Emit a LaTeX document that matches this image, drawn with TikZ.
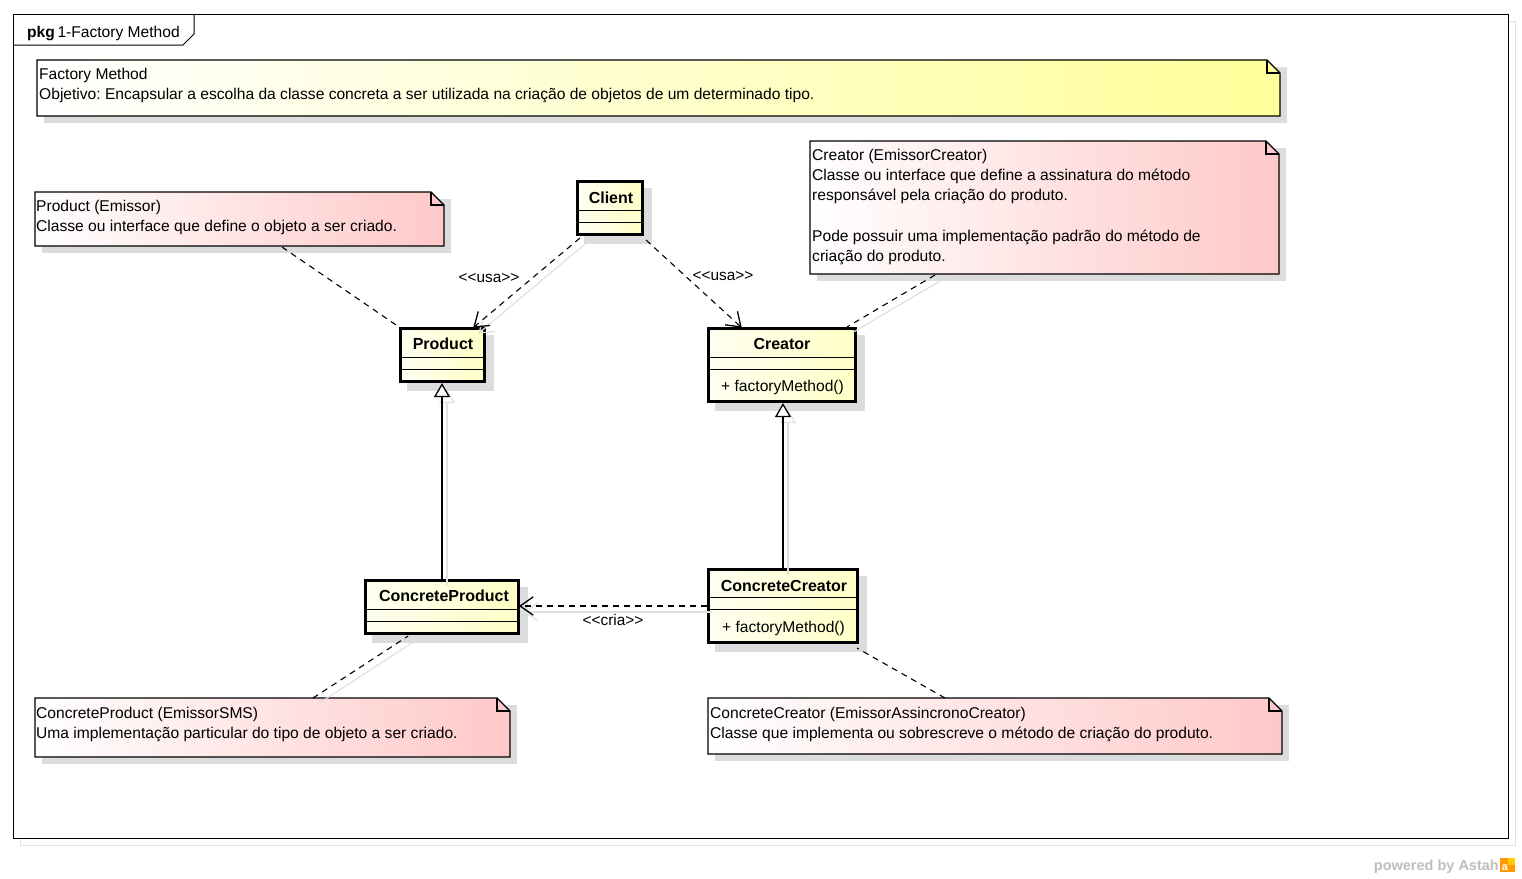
\documentclass[tikz,border=0pt]{standalone}
\usepackage{fontspec}
\setmainfont{Liberation Sans}[Ligatures=TeXOff]
\usetikzlibrary{arrows.meta,calc}
\frenchspacing

\definecolor{clsL}{RGB}{255,255,242}
\definecolor{clsR}{RGB}{255,255,198}
\definecolor{noteY}{RGB}{255,255,154}
\definecolor{noteP}{RGB}{255,200,200}
\definecolor{shadowc}{RGB}{220,220,220}
\definecolor{lineshadow}{RGB}{225,225,225}
\definecolor{astahgray}{RGB}{190,190,190}

% UML note with folded corner: x1, y1, x2, y2, right-hand colour
\newcommand\umlnote[5]{%
  \fill[shadowc] ({#1+7},{#2+7}) rectangle ({#3+7},{#4+7});
  \path[left color=white, right color=#5]
    (#1,#2) -- ({#3-13},#2) -- (#3,{#2+13}) -- (#3,#4) -- (#1,#4) -- cycle;
  \draw[notebord] (#1,#2) -- ({#3-13},#2) -- (#3,{#2+13}) -- (#3,#4) -- (#1,#4) -- cycle;
  \draw[notebord] ({#3-13},#2) -- ({#3-13},{#2+13}) -- (#3,{#2+13});
}
% open V arrow head at #2 for a line coming from #1, extra style #3
\newcommand\vhead[3]{%
  \draw[vstyle, #3] ($(#2)!16pt!35:(#1)$) -- (#2) -- ($(#2)!16pt!-35:(#1)$);
}

\tikzset{
  notebord/.style={line width=1.2pt, line join=miter},
  txt/.style={anchor=base west, inner sep=0pt, font=\fontsize{15.6}{20}\selectfont},
  clsname/.style={anchor=base, inner sep=0pt, font=\bfseries\fontsize{16}{20}\selectfont},
  clsop/.style={anchor=base west, inner sep=0pt, font=\fontsize{15.6}{20}\selectfont},
  umlclass/.style={draw, line width=3.2pt, inner sep=0pt, left color=clsL, right color=clsR},
  compline/.style={line width=1pt},
  vstyle/.style={line width=1.3pt, line join=miter, solid},
  depend/.style={dash pattern=on 6pt off 5pt, line width=1.1pt},
  anchorline/.style={dash pattern=on 6pt off 5pt, line width=1.1pt},
  generalize/.style={line width=1.3pt,
    -{Triangle[open, length=14pt, width=16pt, fill=white, line width=1.3pt]}},
  stereo/.style={anchor=base, inner sep=0pt, font=\fontsize{15.4}{20}\selectfont},
}

\begin{document}
\begin{tikzpicture}[x=1pt, y=-1pt]
\useasboundingbox (0,0) rectangle (1522,878);
\fill[white] (0,0) rectangle (1522,878);

% package frame with its shadow
\draw[lineshadow, line width=1pt] (20,21) rectangle (1515,845);
\draw[fill=white, line width=1pt] (13,14) rectangle (1508,838);
\draw[line width=1pt] (13,45) -- (183,45) -- (194,34) -- (194,14);
\node[anchor=base west, inner sep=0pt, font=\fontsize{15.6}{20}\selectfont] (pkglabel)
  at (27,37) {\textbf{pkg}\,1-Factory Method};

% notes
\umlnote{37}{60}{1280}{116}{noteY}
\node[txt] (n0a) at (39,79) {Factory Method};
\node[txt] (n0b) at (39,99) {Objetivo: Encapsular a escolha da classe concreta a ser utilizada na criação de objetos de um determinado tipo.};

\umlnote{35}{192}{444}{246}{noteP}
\node[txt] (n1a) at (36,211) {Product (Emissor)};
\node[txt] (n1b) at (36,231) {Classe ou interface que define o objeto a ser criado.};
\coordinate (n1c) at (282,247);

\umlnote{810}{141}{1279}{274}{noteP}
\node[txt] (n2a) at (812,160) {Creator (EmissorCreator)};
\node[txt] (n2b) at (812,180) {Classe ou interface que define a assinatura do método};
\node[txt] (n2c) at (812,200) {responsável pela criação do produto.};
\node[txt] (n2d) at (812,241) {Pode possuir uma implementação padrão do método de};
\node[txt] (n2e) at (812,261) {criação do produto.};
\coordinate (n2p) at (935,275);

\umlnote{35}{698}{510}{757}{noteP}
\node[txt] (n3a) at (36,718) {ConcreteProduct (EmissorSMS)};
\node[txt] (n3b) at (36,738) {Uma implementação particular do tipo de objeto a ser criado.};
\coordinate (n3p) at (313,698);

\umlnote{708}{698}{1282}{754}{noteP}
\node[txt] (n4a) at (710,718) {ConcreteCreator (EmissorAssincronoCreator)};
\node[txt] (n4b) at (710,738) {Classe que implementa ou sobrescreve o método de criação do produto.};
\coordinate (n4p) at (945,698);

% class shadows
\fill[shadowc] (584,188) rectangle (652,244);
\fill[shadowc] (407,335) rectangle (494,391);
\fill[shadowc] (715,335) rectangle (865,411);
\fill[shadowc] (372,587) rectangle (528,643);
\fill[shadowc] (715,576) rectangle (867,652);

% classes
\node[umlclass, minimum width=65pt, minimum height=53pt] (client) at (610,208) {};
\draw[compline] (577.5,210) -- (642.5,210) (577.5,222) -- (642.5,222);
\node[clsname] (clientname) at (611,203) {Client};

\node[umlclass, minimum width=84pt, minimum height=53pt] (product) at (442.5,355) {};
\draw[compline] (400.5,357) -- (484.5,357) (400.5,369) -- (484.5,369);
\node[clsname] (productname) at (443,349) {Product};

\node[umlclass, minimum width=147pt, minimum height=73pt] (creator) at (782,365) {};
\draw[compline] (708.5,357) -- (855.5,357) (708.5,369) -- (855.5,369);
\node[clsname] (creatorname) at (782,349) {Creator};
\node[clsop] (creatorop) at (721,391) {+ factoryMethod()};

\node[umlclass, minimum width=153pt, minimum height=53pt] (cp) at (442,607) {};
\draw[compline] (365.5,609) -- (518.5,609) (365.5,621) -- (518.5,621);
\node[clsname] (cpname) at (444,601) {ConcreteProduct};

\node[umlclass, minimum width=149pt, minimum height=73pt] (cc) at (783,606) {};
\draw[compline] (708.5,597) -- (857.5,597) (708.5,609) -- (857.5,609);
\node[clsname] (ccname) at (784,591) {ConcreteCreator};
\node[clsop] (ccop) at (722,632) {+ factoryMethod()};

% connector end points
\coordinate (clA) at ($(client.south west)+(4,2)$);
\coordinate (prA) at ($(product.north east)+(-12,0)$);
\coordinate (clB) at ($(client.south east)+(2,4)$);
\coordinate (crB) at ($(creator.north west)+(34,0)$);
\coordinate (ccW) at (cc.west);
\coordinate (cpE) at (cc.west -| cp.east);

% connector shadows
\begin{scope}[transform canvas={shift={(5,6)}}]
  \draw[lineshadow, line width=1.2pt] (clA) -- (prA);
  \vhead{clA}{prA}{lineshadow}
  \draw[lineshadow, line width=1.2pt] (n2p) -- ($(creator.north east)+(-10,0)$);
  \draw[lineshadow, line width=1.2pt] (n3p) -- ($(cp.south)+(-34,1)$);
  \draw[lineshadow, line width=1.2pt, -{Triangle[open, length=14pt, width=16pt]}]
    (cp.north) -- (cp.north |- product.south);
  \draw[lineshadow, line width=1.2pt, -{Triangle[open, length=14pt, width=16pt]}]
    (cc.north) -- (cc.north |- creator.south);
  \draw[lineshadow, line width=1.2pt] (ccW) -- (cpE);
  \vhead{ccW}{cpE}{lineshadow}
\end{scope}

% dependencies
\draw[depend] (clA) -- (prA);
\vhead{clA}{prA}{}
\draw[depend] (clB) -- (crB);
\vhead{clB}{crB}{}
\draw[depend] (ccW) -- (cpE);
\vhead{ccW}{cpE}{}
\node[stereo] (usa1) at (489,282) {<<usa>>};
\node[stereo] (usa2) at (723,280) {<<usa>>};
\node[stereo] (cria) at (613,625) {<<cria>>};

% generalizations
\draw[generalize] (cp.north) -- (cp.north |- product.south);
\draw[generalize] (cc.north) -- (cc.north |- creator.south);

% note anchors
\draw[anchorline] (n1c) -- (product.north west);
\draw[anchorline] (n2p) -- ($(creator.north east)+(-10,0)$);
\draw[anchorline] (n3p) -- ($(cp.south)+(-34,1)$);
\draw[anchorline] (n4p) -- ($(cc.south east)+(-2,4)$);

% footer
\node[anchor=base east, inner sep=0pt, text=astahgray, font=\bfseries\fontsize{14.5}{14}\selectfont]
  (powered) at (1499,870) {powered by Astah};
\fill[orange!80!yellow] (1500,858) rectangle (1515,872);
\fill[orange!40!yellow] (1508,858) rectangle (1515,865);
\node[anchor=base, inner sep=0pt, text=white, font=\bfseries\fontsize{11}{11}\selectfont]
  (logo) at (1505,870) {a};
\end{tikzpicture}
\end{document}
